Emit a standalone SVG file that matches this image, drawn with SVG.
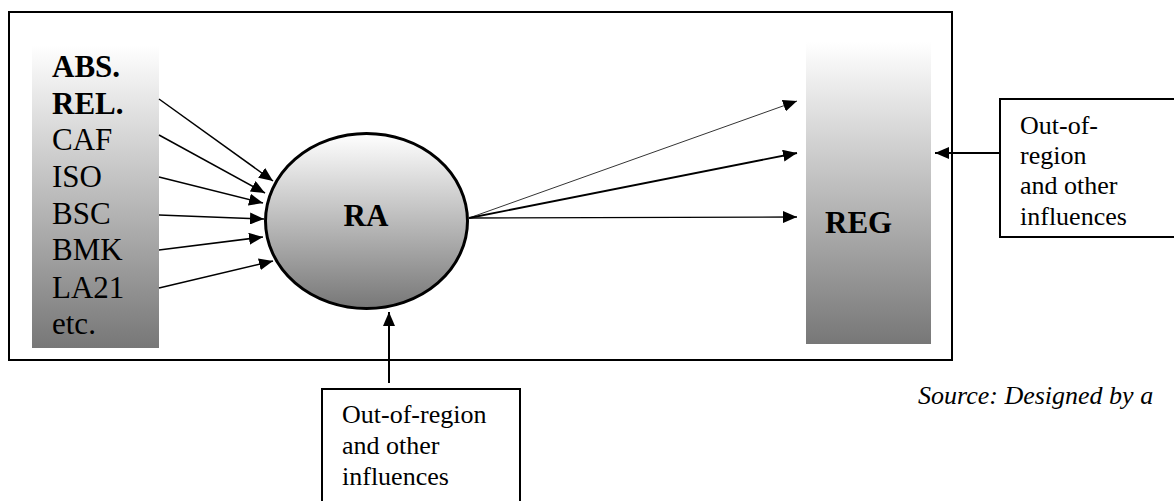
<svg xmlns="http://www.w3.org/2000/svg" width="1174" height="501" viewBox="0 0 1174 501">
<style>
text{font-family:"Liberation Serif","DejaVu Serif",serif;fill:#000}
.lab{font-size:31px}
.b{font-weight:bold}
.sm{font-size:26px}
.ln{stroke:#000;fill:none}
.box{fill:#fff;stroke:#000;stroke-width:2}
</style>
<defs>
<linearGradient id="g" x1="0" y1="0" x2="0" y2="1">
<stop offset="0" stop-color="#ffffff"/>
<stop offset="1" stop-color="#777777"/>
</linearGradient>
<marker id="ah" markerUnits="userSpaceOnUse" markerWidth="14" markerHeight="12" refX="14" refY="6" orient="auto" viewBox="0 0 14 12">
<path d="M0,0 L14,6 L0,12 z" fill="#000"/>
</marker>
</defs>
<rect id="frame" x="9" y="12" width="943" height="348" fill="#fff" stroke="#000" stroke-width="2"/>
<g id="inputs">
<rect x="32" y="45" width="127" height="303" fill="url(#g)"/>
<text class="lab b" x="52" y="77" font-family="Liberation Serif, serif">ABS.</text>
<text class="lab b" x="52" y="114" font-family="Liberation Serif, serif">REL.</text>
<text class="lab" x="52" y="150" font-family="Liberation Serif, serif">CAF</text>
<text class="lab" x="52" y="187" font-family="Liberation Serif, serif">ISO</text>
<text class="lab" x="52" y="224" font-family="Liberation Serif, serif">BSC</text>
<text class="lab" x="52" y="260" font-family="Liberation Serif, serif">BMK</text>
<text class="lab" x="52" y="298" font-family="Liberation Serif, serif">LA21</text>
<text class="lab" x="52" y="334" font-family="Liberation Serif, serif">etc.</text>
</g>
<g id="ra">
<ellipse cx="366.5" cy="221" rx="101" ry="87.5" fill="url(#g)" stroke="#000" stroke-width="3"/>
<text class="lab b" x="366" y="226" text-anchor="middle" font-family="Liberation Serif, serif">RA</text>
</g>
<g id="reg">
<rect x="806" y="42" width="125" height="302" fill="url(#g)"/>
<text class="lab b" x="825" y="233" font-family="Liberation Serif, serif">REG</text>
</g>
<g id="out-right">
<rect class="box" x="1000" y="99" width="190" height="138"/>
<text class="sm" x="1020" y="134" font-family="Liberation Serif, serif">Out-of-</text>
<text class="sm" x="1020" y="164" font-family="Liberation Serif, serif">region</text>
<text class="sm" x="1020" y="194" font-family="Liberation Serif, serif">and other</text>
<text class="sm" x="1020" y="225" font-family="Liberation Serif, serif">influences</text>
</g>
<g id="out-bottom">
<rect class="box" x="322" y="389" width="198" height="130"/>
<text class="sm" x="342" y="423" font-family="Liberation Serif, serif">Out-of-region</text>
<text class="sm" x="342" y="454" font-family="Liberation Serif, serif">and other</text>
<text class="sm" x="342" y="485" font-family="Liberation Serif, serif">influences</text>
</g>
<g id="connectors">
<line class="ln" stroke-width="1.5" x1="159" y1="99" x2="273" y2="181" marker-end="url(#ah)"/>
<line class="ln" stroke-width="1.5" x1="159" y1="135" x2="265" y2="193" marker-end="url(#ah)"/>
<line class="ln" stroke-width="1.5" x1="159" y1="177" x2="263" y2="203" marker-end="url(#ah)"/>
<line class="ln" stroke-width="1.5" x1="159" y1="215" x2="264" y2="219" marker-end="url(#ah)"/>
<line class="ln" stroke-width="1.5" x1="159" y1="250" x2="263" y2="237" marker-end="url(#ah)"/>
<line class="ln" stroke-width="1.5" x1="159" y1="288" x2="273" y2="261" marker-end="url(#ah)"/>
<line class="ln" stroke-width="0.8" x1="469" y1="218" x2="797" y2="101" marker-end="url(#ah)"/>
<line class="ln" stroke-width="1.8" x1="469" y1="218" x2="797" y2="153" marker-end="url(#ah)"/>
<line class="ln" stroke-width="1.3" x1="469" y1="218" x2="797" y2="217" marker-end="url(#ah)"/>
<line class="ln" stroke-width="2" x1="1000" y1="153" x2="935" y2="153" marker-end="url(#ah)"/>
<line class="ln" stroke-width="2" x1="389" y1="383" x2="389" y2="312" marker-end="url(#ah)"/>
</g>
<text class="sm" x="918" y="404" font-style="italic" font-family="Liberation Serif, serif">Source: Designed by a</text>
</svg>
